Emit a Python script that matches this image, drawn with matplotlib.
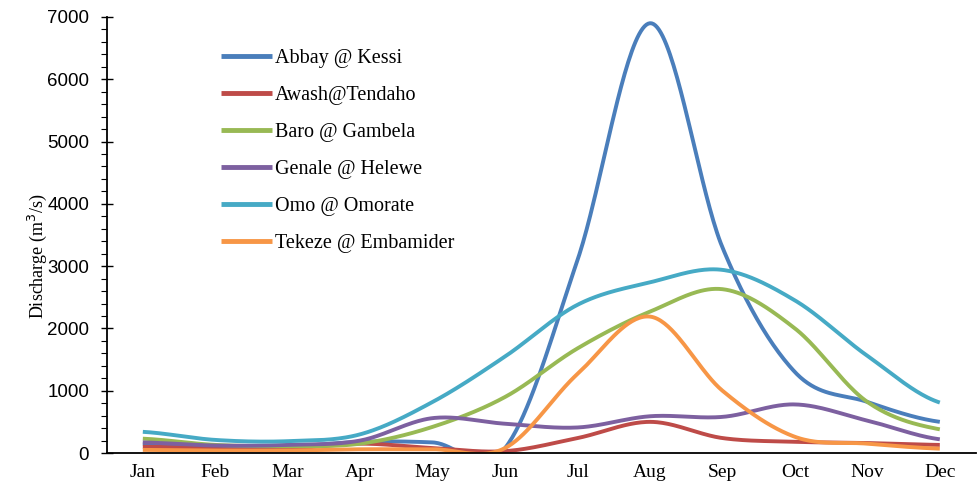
import matplotlib
matplotlib.use("Agg")
import matplotlib.pyplot as plt
import numpy as np
from matplotlib.ticker import MultipleLocator

months = ["Jan", "Feb", "Mar", "Apr", "May", "Jun",
          "Jul", "Aug", "Sep", "Oct", "Nov", "Dec"]

stations = ["Abbay @ Kessi", "Awash@Tendaho", "Baro @ Gambela",
            "Genale @ Helewe", "Omo @ Omorate", "Tekeze @ Embamider"]

abbay  = [150, 100, 100, 180, 170, 80, 3100, 6900, 3300, 1300, 820, 500]
awash  = [100, 80, 70, 150, 80, 30, 240, 500, 240, 180, 160, 130]
baro   = [230, 130, 110, 150, 420, 900, 1680, 2270, 2630, 2000, 820, 380]
genale = [170, 120, 130, 200, 560, 470, 410, 590, 580, 780, 520, 220]
omo    = [340, 210, 190, 300, 820, 1550, 2380, 2740, 2940, 2450, 1560, 810]
tekeze = [50, 40, 40, 60, 60, 80, 1270, 2190, 1000, 260, 150, 70]

colors = ["#4A7EBB", "#BE4B48", "#98B954", "#7D60A0", "#46AAC5", "#F79646"]

SERIF = "Liberation Serif"
SANS = "Liberation Sans"


def catmull_rom(y, n=40):
    # Excel-style smoothed line through the points
    y = np.asarray(y, dtype=float)
    ext = np.concatenate([[y[0]], y, [y[-1]]])
    xs, ys = [], []
    t = np.linspace(0, 1, n, endpoint=False)
    for i in range(len(y) - 1):
        p0, p1, p2, p3 = ext[i], ext[i + 1], ext[i + 2], ext[i + 3]
        seg = 0.5 * ((2 * p1) + (-p0 + p2) * t
                     + (2 * p0 - 5 * p1 + 4 * p2 - p3) * t ** 2
                     + (-p0 + 3 * p1 - 3 * p2 + p3) * t ** 3)
        xs.append(i + t)
        ys.append(seg)
    xs.append([len(y) - 1])
    ys.append([y[-1]])
    return np.concatenate(xs), np.concatenate(ys)


fig = plt.figure(figsize=(9.78, 4.88), dpi=100)
ax = fig.add_axes([0.109, 0.0717, 0.889, 0.8935])

series = [abbay, awash, baro, genale, omo, tekeze]
for name, vals, c in zip(stations, series, colors):
    xs, ys = catmull_rom(vals)
    ax.plot(xs, ys, color=c, linewidth=2.8, label=name,
            solid_capstyle="butt")

ax.set_xlim(-0.5, 11.5)
ax.set_ylim(0, 7000)
ax.set_xticks(range(12))
ax.set_xticklabels(months, fontfamily=SERIF, fontsize=14)
ax.yaxis.set_major_locator(MultipleLocator(1000))
ax.yaxis.set_minor_locator(MultipleLocator(200))
for lab in ax.get_yticklabels():
    lab.set_fontfamily(SANS)
    lab.set_fontsize(13.5)
ax.tick_params(axis="x", length=0, pad=8)
ax.tick_params(axis="y", which="major", direction="inout", length=9,
               width=1, pad=8)
ax.tick_params(axis="y", which="minor", direction="out", length=4,
               width=0.8)

for side in ["top", "right"]:
    ax.spines[side].set_visible(False)
ax.spines["left"].set_linewidth(1.3)
ax.spines["bottom"].set_linewidth(1.3)

ax.set_ylabel("Discharge (m$^3$/s)", fontfamily=SERIF, fontsize=13)
ax.yaxis.set_label_coords(-0.066, 0.452)

leg = ax.legend(loc="upper left", bbox_to_anchor=(0.1205, 0.949), frameon=False,
                prop={"family": SERIF, "size": 14.5}, handlelength=2.5,
                handletextpad=0.15, labelspacing=0.89, borderpad=0)
for h in leg.get_lines():
    h.set_linewidth(3.5)

fig.savefig("out.png", dpi=100, facecolor="white")
